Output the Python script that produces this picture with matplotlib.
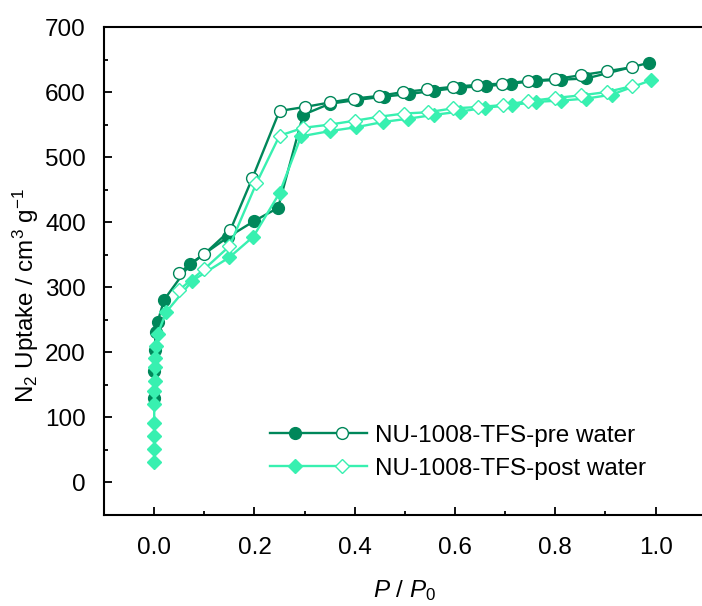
import matplotlib
matplotlib.use("Agg")
import matplotlib.pyplot as plt
from matplotlib.legend_handler import HandlerBase
from matplotlib.lines import Line2D

plt.rcParams['font.family'] = ['Liberation Sans', 'DejaVu Sans']
plt.rcParams['mathtext.fontset'] = 'custom'
plt.rcParams['mathtext.rm'] = 'Liberation Sans'
plt.rcParams['mathtext.it'] = 'Liberation Sans:italic'

# pre water isotherm
pre_ads_p = [0.0001, 0.0004, 0.001, 0.003, 0.007, 0.02, 0.072, 0.147, 0.20, 0.247,
             0.297, 0.35, 0.405, 0.458, 0.508, 0.558, 0.61, 0.662, 0.711, 0.762,
             0.812, 0.862, 0.987]
pre_ads_q = [130, 172, 203, 232, 247, 281, 336, 377, 402, 422,
             565, 582, 588, 593, 597, 602, 607, 609, 613, 617,
             619, 621, 645]
pre_des_p = [0.952, 0.902, 0.852, 0.80, 0.746, 0.694, 0.644, 0.595, 0.545, 0.496,
             0.448, 0.398, 0.35, 0.30, 0.25, 0.196, 0.152, 0.10, 0.049]
pre_des_q = [638, 632, 626, 620, 617, 613, 611, 608, 604, 600,
             594, 590, 584, 577, 571, 468, 388, 351, 322]

# post water isotherm
post_ads_p = [0.00001, 0.00002, 0.00005, 0.0001, 0.0002, 0.0004, 0.0007, 0.001, 0.002,
              0.004, 0.007, 0.024, 0.076, 0.15, 0.198, 0.25, 0.293, 0.35, 0.403,
              0.456, 0.506, 0.558, 0.61, 0.66, 0.713, 0.762, 0.812, 0.862, 0.912, 0.99]
post_ads_q = [31, 51, 72, 92, 121, 141, 156, 177, 192,
              210, 228, 262, 310, 346, 378, 445, 532, 540, 546,
              554, 559, 565, 570, 576, 580, 585, 587, 590, 596, 618]
post_des_p = [0.952, 0.902, 0.852, 0.80, 0.746, 0.695, 0.646, 0.596, 0.546, 0.498,
              0.448, 0.40, 0.35, 0.297, 0.25, 0.204, 0.15, 0.10, 0.05]
post_des_q = [609, 600, 595, 591, 586, 580, 577, 575, 569, 567,
              562, 556, 550, 545, 533, 460, 363, 328, 296]

labels = ['NU-1008-TFS-pre water', 'NU-1008-TFS-post water']
dark = '#00875A'
light = '#38F0B0'


class FilledOpenHandler(HandlerBase):
    # line with a filled marker on the left and an open one on the right
    def create_artists(self, legend, orig_handle, xdescent, ydescent,
                       width, height, fontsize, trans):
        filled, opened = orig_handle
        y = height / 2 - ydescent
        x0 = -xdescent
        line = Line2D([x0, x0 + width], [y, y], color=filled.get_color(),
                      lw=filled.get_linewidth())
        m1 = Line2D([x0 + 0.26 * width], [y])
        m1.update_from(filled)
        m1.set_linestyle('none')
        m2 = Line2D([x0 + 0.74 * width], [y])
        m2.update_from(opened)
        m2.set_linestyle('none')
        for a in (line, m1, m2):
            a.set_transform(trans)
        return [line, m1, m2]


fig = plt.figure(figsize=(7.02, 6.06), dpi=100)
ax = fig.add_axes([104 / 702, 91 / 606, 601.8 / 702, 488 / 606])

pa, = ax.plot(pre_ads_p, pre_ads_q, '-o', color=dark, lw=1.7, ms=8.5,
              mfc=dark, mec=dark, zorder=2)
pd, = ax.plot(pre_des_p, pre_des_q, '-o', color=dark, lw=1.7, ms=8.5,
              mfc='white', mec=dark, mew=1.0, zorder=3)
qa, = ax.plot(post_ads_p, post_ads_q, '-D', color=light, lw=1.7, ms=7,
              mfc=light, mec=light, zorder=4)
qd, = ax.plot(post_des_p, post_des_q, '-D', color=light, lw=1.7, ms=7,
              mfc='white', mec=light, mew=1.0, zorder=5)

ax.set_xlim(-0.1, 1.1)
ax.set_ylim(-50, 700)
ax.set_xticks([0.0, 0.2, 0.4, 0.6, 0.8, 1.0])
ax.set_xticks([0.1, 0.3, 0.5, 0.7, 0.9], minor=True)
ax.set_yticks(range(0, 701, 100))
ax.set_yticks(range(50, 701, 100), minor=True)
ax.xaxis.set_major_formatter(matplotlib.ticker.FormatStrFormatter('%.1f'))

ax.tick_params(which='both', direction='in', labelsize=17.5, width=1.3)
ax.tick_params(which='major', length=6, pad=13)
ax.tick_params(axis='x', which='major', pad=16)
ax.tick_params(which='minor', length=3)
ax.tick_params(top=False, right=False)
for s in ('left', 'bottom', 'top'):
    ax.spines[s].set_linewidth(1.5)
ax.spines['right'].set_visible(False)

ax.set_xlabel(r'$\it{P}$ / $\it{P}_\mathrm{0}$', fontsize=17.5, va='center')
ax.set_ylabel(r'N$_2$ Uptake / cm$^3$ g$^{-1}$', fontsize=17.5, va='center')
ax.xaxis.set_label_coords(0.5, -0.155)
ax.yaxis.set_label_coords(-0.13, 0.45)

ax.legend([(pa, pd), (qa, qd)], labels, handler_map={tuple: FilledOpenHandler()},
          loc='upper left', bbox_to_anchor=(0.276, 0.185), frameon=False,
          fontsize=17.5, handlelength=4.0, handletextpad=0.3, labelspacing=0.45,
          borderpad=0, borderaxespad=0)

fig.savefig('out.png', dpi=100)
